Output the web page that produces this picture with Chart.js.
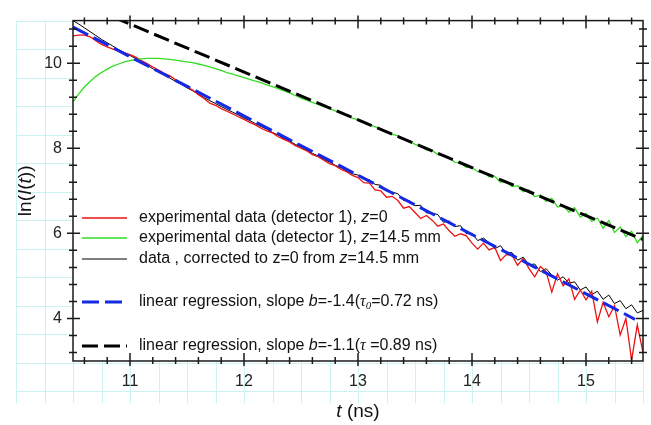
<!DOCTYPE html>
<html lang="en">
<head>
<meta charset="UTF-8">
<title>ln(I(t)) vs t</title>
<script src="https://cdn.jsdelivr.net/npm/chart.js"></script>
<style>
  html, body { margin: 0; padding: 0; background: #fff; }
  #wrap { width: 651px; height: 425px; }
</style>
</head>
<body>
<div id="wrap"><canvas id="decay"></canvas></div>
<script>
// time axis (ns), one sample every 0.05 ns
const tNs = [
  10.50, 10.55, 10.60, 10.65, 10.70, 10.75, 10.80, 10.85, 10.90, 10.95,
  11.00, 11.05, 11.10, 11.15, 11.20, 11.25, 11.30, 11.35, 11.40, 11.45,
  11.50, 11.55, 11.60, 11.65, 11.70, 11.75, 11.80, 11.85, 11.90, 11.95,
  12.00, 12.05, 12.10, 12.15, 12.20, 12.25, 12.30, 12.35, 12.40, 12.45,
  12.50, 12.55, 12.60, 12.65, 12.70, 12.75, 12.80, 12.85, 12.90, 12.95,
  13.00, 13.05, 13.10, 13.15, 13.20, 13.25, 13.30, 13.35, 13.40, 13.45,
  13.50, 13.55, 13.60, 13.65, 13.70, 13.75, 13.80, 13.85, 13.90, 13.95,
  14.00, 14.05, 14.10, 14.15, 14.20, 14.25, 14.30, 14.35, 14.40, 14.45,
  14.50, 14.55, 14.60, 14.65, 14.70, 14.75, 14.80, 14.85, 14.90, 14.95,
  15.00, 15.05, 15.10, 15.15, 15.20, 15.25, 15.30, 15.35, 15.40, 15.45,
  15.50
];
// detector 1, z=0
const redZ0 = [
  10.64, 10.66, 10.66, 10.62, 10.53, 10.44, 10.38, 10.33, 10.29, 10.25,
  10.20, 10.14, 10.06, 9.99, 9.91, 9.84, 9.76, 9.70, 9.61, 9.53,
  9.44, 9.37, 9.26, 9.17, 9.06, 9.01, 8.93, 8.87, 8.81, 8.74,
  8.68, 8.61, 8.55, 8.47, 8.41, 8.36, 8.27, 8.21, 8.15, 8.06,
  8.00, 7.94, 7.85, 7.80, 7.72, 7.64, 7.59, 7.50, 7.45, 7.36,
  7.31, 7.19, 7.18, 7.02, 7.00, 6.85, 6.87, 6.77, 6.59, 6.63,
  6.49, 6.35, 6.42, 6.31, 6.17, 6.22, 6.06, 5.93, 5.99, 5.94,
  5.77, 5.63, 5.77, 5.61, 5.67, 5.36, 5.50, 5.49, 5.25, 5.41,
  5.17, 4.98, 5.22, 5.10, 4.62, 5.05, 4.77, 4.93, 4.45, 4.67,
  4.44, 4.64, 3.92, 4.38, 4.04, 4.30, 3.61, 4.00, 3.02, 3.85,
  3.20
];
// detector 1, z=14.5 mm
const greenZ145 = [
  9.09, 9.28, 9.44, 9.57, 9.69, 9.78, 9.86, 9.93, 9.98, 10.03,
  10.06, 10.08, 10.10, 10.11, 10.11, 10.11, 10.10, 10.09, 10.07, 10.05,
  10.03, 10.01, 9.98, 9.95, 9.91, 9.87, 9.83, 9.78, 9.74, 9.70,
  9.66, 9.62, 9.58, 9.54, 9.49, 9.45, 9.40, 9.35, 9.30, 9.24,
  9.18, 9.13, 9.08, 9.03, 8.98, 8.93, 8.88, 8.82, 8.78, 8.71,
  8.67, 8.62, 8.55, 8.51, 8.44, 8.40, 8.33, 8.29, 8.21, 8.17,
  8.09, 8.05, 7.96, 7.95, 7.85, 7.82, 7.78, 7.67, 7.66, 7.55,
  7.55, 7.45, 7.44, 7.33, 7.34, 7.20, 7.22, 7.10, 7.12, 6.98,
  7.02, 6.86, 6.90, 6.75, 6.82, 6.62, 6.66, 6.50, 6.60, 6.38,
  6.47, 6.28, 6.36, 6.12, 6.30, 6.02, 6.15, 5.92, 6.05, 5.78,
  5.95
];
// corrected to z=0 from z=14.5 mm
const blackCorr = [
  11.00, 10.92, 10.83, 10.74, 10.65, 10.56, 10.48, 10.40, 10.32, 10.25,
  10.18, 10.11, 10.03, 9.95, 9.87, 9.80, 9.72, 9.65, 9.57, 9.50,
  9.42, 9.35, 9.27, 9.19, 9.12, 9.05, 8.98, 8.91, 8.85, 8.78,
  8.71, 8.65, 8.58, 8.51, 8.45, 8.37, 8.31, 8.23, 8.17, 8.09,
  8.03, 7.96, 7.88, 7.82, 7.74, 7.68, 7.60, 7.54, 7.47, 7.40,
  7.37, 7.28, 7.26, 7.15, 7.13, 6.99, 6.97, 6.93, 6.77, 6.77,
  6.65, 6.66, 6.48, 6.48, 6.44, 6.26, 6.29, 6.16, 6.18, 5.99,
  6.00, 5.83, 5.89, 5.78, 5.64, 5.71, 5.53, 5.55, 5.37, 5.44,
  5.26, 5.28, 5.10, 5.17, 5.02, 4.90, 4.98, 4.83, 4.86, 4.67,
  4.74, 4.56, 4.64, 4.45, 4.55, 4.35, 4.42, 4.23, 4.32, 4.13,
  4.19
];
// regression lines (end points)
const fitBlueT = [10.50, 15.43];
const fitBlueY = [10.85, 3.98];
const fitBlackT = [10.50, 15.50];
const fitBlackY = [11.48, 5.855];

const xTicks = [11, 12, 13, 14, 15];
const yTicks = [4, 6, 8, 10];

const SANS = '"Liberation Sans", Arial, sans-serif';
const SERIF = '"Liberation Serif", "Times New Roman", serif';

const legendRows = [
  { color: '#ee1111', width: 1.3, dash: [], y: 218,
    parts: [{ s: 'experimental data (detector 1), ' }, { s: 'z', it: true }, { s: '=0' }] },
  { color: '#33dd22', width: 1.3, dash: [], y: 238,
    parts: [{ s: 'experimental data (detector 1), ' }, { s: 'z', it: true }, { s: '=14.5 mm' }] },
  { color: '#000', width: 1, dash: [], y: 259,
    parts: [{ s: 'data , corrected to z=0 from ' }, { s: 'z', it: true }, { s: '=14.5 mm' }] },
  { color: '#1428e6', width: 3, dash: [17, 6], y: 302,
    parts: [{ s: 'linear regression, slope ' }, { s: 'b', it: true }, { s: '=-1.4(' },
            { s: 'τ', it: true, serif: true }, { s: '0', it: true, serif: true, sub: true }, { s: '=0.72 ns)' }] },
  { color: '#000', width: 3, dash: [16, 6], y: 346,
    parts: [{ s: 'linear regression, slope ' }, { s: 'b', it: true }, { s: '=-1.1(' },
            { s: 'τ', it: true, serif: true }, { s: ' =0.89 ns)' }] }
];

function pts(xs, ys) { return ys.map((v, i) => ({ x: xs[i], y: v })); }

function setFont(ctx, p, size) {
  const sz = p.sub ? Math.round(size * 0.7) : size;
  ctx.font = (p.it ? 'italic ' : '') + sz + 'px ' + (p.serif ? SERIF : SANS);
}
function richWidth(ctx, parts, size) {
  let w = 0;
  parts.forEach(p => { setFont(ctx, p, size); w += ctx.measureText(p.s).width; });
  return w;
}
function drawRich(ctx, x, y, parts, size) {
  parts.forEach(p => {
    setFont(ctx, p, size);
    ctx.fillText(p.s, x, y + (p.sub ? size * 0.28 : 0));
    x += ctx.measureText(p.s).width;
  });
}

const paperGrid = {
  id: 'paperGrid',
  beforeDraw(chart) {
    const { ctx, chartArea: a, scales: { x } } = chart;
    const step = x.getPixelForValue(10.75) - x.getPixelForValue(10.5);
    const left = x.getPixelForValue(10.0), bottom = a.bottom + 42;
    ctx.save();
    ctx.fillStyle = '#fff';
    ctx.fillRect(0, 0, chart.width, chart.height);
    ctx.strokeStyle = '#cdf2f2';
    ctx.lineWidth = 1;
    ctx.beginPath();
    for (let v = 10.0; v <= 15.51; v += 0.25) {
      const px = Math.round(x.getPixelForValue(v)) + 0.5;
      ctx.moveTo(px, a.top); ctx.lineTo(px, bottom);
    }
    for (let py = a.top; py <= bottom + 1; py += step) {
      const yy = Math.round(py) + 0.5;
      ctx.moveTo(left, yy); ctx.lineTo(a.right, yy);
    }
    ctx.stroke();
    ctx.fillStyle = '#fff';
    ctx.fillRect(a.left, a.top, a.right - a.left, a.bottom - a.top);
    ctx.restore();
  }
};

const frameAndText = {
  id: 'frameAndText',
  afterDatasetsDraw(chart) {
    const { ctx, chartArea: a, scales: { x, y } } = chart;
    ctx.save();
    ctx.strokeStyle = '#1a1a1a';
    ctx.lineWidth = 1.5;
    ctx.strokeRect(a.left, a.top, a.right - a.left, a.bottom - a.top);
    ctx.beginPath();
    for (let v = 10.6; v < 15.45; v += 0.2) {
      const px = x.getPixelForValue(v);
      const major = Math.abs(v - Math.round(v)) < 0.01;
      const inn = major ? 8 : 4, out = major ? 5 : 3;
      ctx.moveTo(px, a.bottom + out); ctx.lineTo(px, a.bottom - inn);
      ctx.moveTo(px, a.top - out); ctx.lineTo(px, a.top + inn);
    }
    for (let v = 3.2; v < 10.95; v += 0.4) {
      const py = y.getPixelForValue(v);
      const major = Math.abs(v / 2 - Math.round(v / 2)) < 0.01;
      const inn = major ? 7 : 4, out = major ? 6 : 4;
      ctx.moveTo(a.left - out, py); ctx.lineTo(a.left + inn, py);
      ctx.moveTo(a.right + out, py); ctx.lineTo(a.right - inn, py);
    }
    ctx.stroke();

    // legend
    ctx.fillStyle = '#111';
    ctx.textBaseline = 'middle';
    ctx.textAlign = 'left';
    legendRows.forEach(r => {
      ctx.strokeStyle = r.color;
      ctx.lineWidth = r.width;
      ctx.setLineDash(r.dash);
      ctx.beginPath();
      ctx.moveTo(a.left + 9, r.y); ctx.lineTo(a.left + 54, r.y);
      ctx.stroke();
      ctx.setLineDash([]);
      drawRich(ctx, a.left + 66, r.y, r.parts, 16);
    });

    // axis titles
    const xt = [{ s: 't', it: true }, { s: ' (ns)' }];
    const xw = richWidth(ctx, xt, 19);
    drawRich(ctx, (a.left + a.right) / 2 - xw / 2, a.bottom + 51, xt, 19);
    const yt = [{ s: 'ln(' }, { s: 'I', it: true }, { s: '(' }, { s: 't', it: true }, { s: '))' }];
    const yw = richWidth(ctx, yt, 19);
    ctx.translate(26, (a.top + a.bottom) / 2);
    ctx.rotate(-Math.PI / 2);
    drawRich(ctx, -yw / 2, 0, yt, 19);
    ctx.restore();
  }
};

new Chart(document.getElementById('decay'), {
  type: 'line',
  data: {
    datasets: [
      { label: 'blue fit', data: pts(fitBlueT, fitBlueY), borderColor: '#1428e6', borderWidth: 3, borderDash: [17, 6], order: 1 },
      { label: 'black fit', data: pts(fitBlackT, fitBlackY), borderColor: '#000', borderWidth: 3, borderDash: [16, 6], order: 0 },
      { label: 'green', data: pts(tNs, greenZ145), borderColor: '#33dd22', borderWidth: 1.3, order: 2 },
      { label: 'red', data: pts(tNs, redZ0), borderColor: '#ee1111', borderWidth: 1.3, order: 3 },
      { label: 'black', data: pts(tNs, blackCorr), borderColor: '#000', borderWidth: 1, order: 4 }
    ]
  },
  options: {
    responsive: true,
    maintainAspectRatio: false,
    animation: false,
    layout: { padding: { left: 0, top: 9, right: 8, bottom: 0 } },
    elements: { point: { radius: 0 }, line: { tension: 0 } },
    plugins: { legend: { display: false }, tooltip: { enabled: false } },
    scales: {
      x: {
        type: 'linear', min: 10.5, max: 15.5,
        grid: { display: false, drawTicks: false }, border: { display: false },
        afterBuildTicks: s => { s.ticks = xTicks.map(v => ({ value: v })); },
        afterFit: s => { s.height = 64; },
        ticks: { padding: 11, color: '#222', font: { family: SANS, size: 16 }, maxRotation: 0 }
      },
      y: {
        type: 'linear', min: 3, max: 11,
        grid: { display: false, drawTicks: false }, border: { display: false },
        afterBuildTicks: s => { s.ticks = yTicks.map(v => ({ value: v })); },
        afterFit: s => { s.width = 73; },
        ticks: { padding: 11, color: '#222', font: { family: SANS, size: 16 } }
      }
    }
  },
  plugins: [paperGrid, frameAndText]
});
</script>
</body>
</html>
